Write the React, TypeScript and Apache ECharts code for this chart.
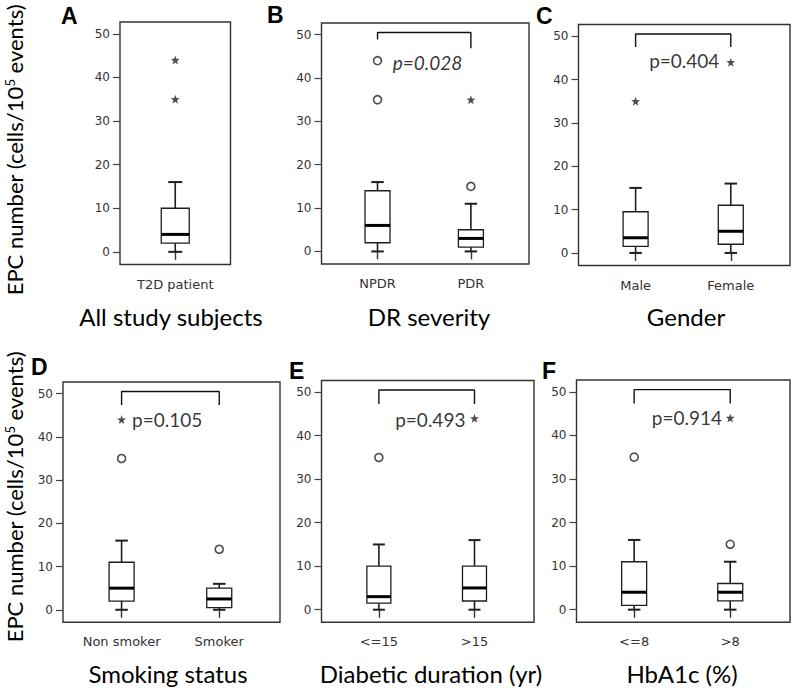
import React, { useEffect, useRef } from "react";
import * as echarts from "echarts";

// ---------- data ----------
const catsA = ["T2D patient"];
const boxA = [[0, 2, 4, 10, 16]]; // min, Q1, median, Q3, max
const circlesA: number[][] = [];
const starsA = [[0, 44], [0, 35]];

const catsB = ["NPDR", "PDR"];
const boxB = [[0, 2, 6, 14, 16], [0, 1, 3, 5, 11]];
const circlesB = [[0, 44], [0, 35], [1, 15]];
const starsB = [[1, 35]];
const pB = "p=0.028";

const catsC = ["Male", "Female"];
const boxC = [[0, 1.5, 3.5, 9.5, 15], [0, 2, 5, 11, 16]];
const circlesC: number[][] = [];
const starsC = [[0, 35], [1, 44]];
const pC = "p=0.404";

const catsD = ["Non smoker", "Smoker"];
const boxD = [[0, 2, 5, 11, 16], [0, 0.5, 2.5, 5, 6]];
const circlesD = [[0, 35], [1, 14]];
const starsD = [[0, 44]];
const pD = "p=0.105";

const catsE = ["<=15", ">15"];
const boxE = [[0, 1.5, 3, 10, 15], [0, 2, 5, 10, 16]];
const circlesE = [[0, 35]];
const starsE = [[1, 44]];
const pE = "p=0.493";

const catsF = ["<=8", ">8"];
const boxF = [[0, 1, 4, 11, 16], [0, 2, 4, 6, 11]];
const circlesF = [[0, 35], [1, 15]];
const starsF = [[1, 44]];
const pF = "p=0.914";

const yTicks = [0, 10, 20, 30, 40, 50];
const letters = ["A", "B", "C", "D", "E", "F"];
const subtitles = [
  "All study subjects",
  "DR severity",
  "Gender",
  "Smoking status",
  "Diabetic duration (yr)",
  "HbA1c (%)",
];

// ---------- layout ----------
const posOne = [0.5];
const posTwo = [0.27, 0.72];
const Y_MIN = -2.9;
const Y_MAX = 52.7;
const TICK_FONT = "DejaVu Sans";
const TEXT_FONT = "Lato";
const STAR =
  "path://M0,-10L2.35,-3.24L9.51,-3.09L3.8,1.24L5.88,8.09L0,4L-5.88,8.09L-3.8,1.24L-9.51,-3.09L-2.35,-3.24Z";

type Panel = {
  cats: string[];
  pos: number[];
  box: number[][];
  circles: number[][];
  stars: number[][];
  p: string | null;
  pItalic?: boolean;
  pAt?: number[];
  legs?: number[];
  grid: { left: number; top: number; width: number; height: number };
  boxW: number;
  sub: number[];
  letter: number[];
};

const panels: Panel[] = [
  { cats: catsA, pos: posOne, box: boxA, circles: circlesA, stars: starsA, p: null,
    grid: { left: 120, top: 22, width: 110.5, height: 242.5 }, boxW: 28, sub: [171, 316], letter: [61, 4] },
  { cats: catsB, pos: posTwo, box: boxB, circles: circlesB, stars: starsB, p: pB, pItalic: true, pAt: [0.511, 43.7], legs: [48.9, 46.9],
    grid: { left: 321.5, top: 23, width: 207.5, height: 241 }, boxW: 25, sub: [429, 316], letter: [267, 3] },
  { cats: catsC, pos: posTwo, box: boxC, circles: circlesC, stars: starsC, p: pC, pAt: [0.5, 44.5], legs: [47.5, 47.5],
    grid: { left: 578.5, top: 24.5, width: 211.5, height: 241 }, boxW: 25, sub: [686, 316], letter: [536, 4] },
  { cats: catsD, pos: posTwo, box: boxD, circles: circlesD, stars: starsD, p: pD, pAt: [0.48, 44], legs: [47.4, 47.4],
    grid: { left: 63, top: 382, width: 217, height: 240.3 }, boxW: 25, sub: [168, 673], letter: [31, 355] },
  { cats: catsE, pos: posTwo, box: boxE, circles: circlesE, stars: starsE, p: pE, pAt: [0.512, 43.8], legs: [47.3, 47.3],
    grid: { left: 321.5, top: 380.5, width: 212.5, height: 241.8 }, boxW: 24, sub: [431, 673], letter: [289, 359] },
  { cats: catsF, pos: posTwo, box: boxF, circles: circlesF, stars: starsF, p: pF, pAt: [0.517, 44.1], legs: [47.3, 47.3],
    grid: { left: 576.5, top: 380, width: 213.5, height: 242.3 }, boxW: 25, sub: [682, 673], letter: [542, 359] },
];
const BRACKET_TOP = 50.5;

function renderBox(boxW: number) {
  return (_params: any, api: any) => {
    const x = api.value(0);
    const pts = [1, 2, 3, 4, 5].map((i) => api.coord([x, api.value(i)]));
    const [pLo, pQ1, pMed, pQ3, pHi] = pts;
    const cx = pLo[0];
    const hw = boxW / 2;
    const cw = boxW / 4;
    const stroke = "#1e1e1e";
    return {
      type: "group",
      children: [
        { type: "line", shape: { x1: cx, y1: pHi[1], x2: cx, y2: pQ3[1] }, style: { stroke, lineWidth: 1.6 } },
        { type: "line", shape: { x1: cx, y1: pQ1[1], x2: cx, y2: pLo[1] }, style: { stroke, lineWidth: 1.6 } },
        { type: "line", shape: { x1: cx - cw, y1: pHi[1], x2: cx + cw, y2: pHi[1] }, style: { stroke, lineWidth: 2 } },
        { type: "line", shape: { x1: cx - cw, y1: pLo[1], x2: cx + cw, y2: pLo[1] }, style: { stroke, lineWidth: 2 } },
        { type: "rect", shape: { x: cx - hw, y: pQ3[1], width: boxW, height: pQ1[1] - pQ3[1] },
          style: { fill: "#fff", stroke, lineWidth: 1.3 } },
        { type: "line", shape: { x1: cx - hw, y1: pMed[1], x2: cx + hw, y2: pMed[1] }, style: { stroke: "#000", lineWidth: 3 } },
      ],
    };
  };
}

function buildOption() {
  const grid: any[] = [];
  const xAxis: any[] = [];
  const yAxis: any[] = [];
  const series: any[] = [];
  const graphic: any[] = [];

  panels.forEach((pn, i) => {
    grid.push({ ...pn.grid, show: true, borderColor: "#333", borderWidth: 1.4, backgroundColor: "#fff" });
    xAxis.push({
      type: "value", gridIndex: i, min: 0, max: 1,
      axisLine: { show: false }, splitLine: { show: false },
      axisTick: { show: true, customValues: pn.pos, length: 8, lineStyle: { color: "#333", width: 1.4 } },
      axisLabel: {
        customValues: pn.pos, margin: 13, color: "#333", fontFamily: TICK_FONT, fontSize: 13,
        formatter: (v: number) => {
          const k = pn.pos.findIndex((p) => Math.abs(p - v) < 1e-6);
          return k >= 0 ? pn.cats[k] : "";
        },
      },
    });
    yAxis.push({
      type: "value", gridIndex: i, min: Y_MIN, max: Y_MAX,
      axisLine: { show: false }, splitLine: { show: false },
      axisTick: { show: true, customValues: yTicks, length: 7, lineStyle: { color: "#444", width: 1.2 } },
      axisLabel: { customValues: yTicks, margin: 10, color: "#333", fontFamily: TICK_FONT, fontSize: 12 },
    });
    series.push({
      type: "custom", xAxisIndex: i, yAxisIndex: i, renderItem: renderBox(pn.boxW),
      encode: { x: 0, y: [1, 2, 3, 4, 5] },
      data: pn.box.map((b, k) => [pn.pos[k], ...b]),
      z: 3,
    });
    series.push({
      type: "scatter", xAxisIndex: i, yAxisIndex: i, symbol: "circle", symbolSize: 8,
      itemStyle: { color: "#fff", borderColor: "#222", borderWidth: 1.6 },
      data: pn.circles.map((c) => [pn.pos[c[0]], c[1]]), z: 4,
    });
    series.push({
      type: "scatter", xAxisIndex: i, yAxisIndex: i, symbol: STAR, symbolSize: 9,
      itemStyle: { color: "#222" },
      data: pn.stars.map((c) => [pn.pos[c[0]], c[1]]), z: 4,
    });
    if (pn.p && pn.legs && pn.pAt) {
      series.push({
        type: "line", xAxisIndex: i, yAxisIndex: i, symbol: "none",
        lineStyle: { color: "#111", width: 1.4 },
        data: [
          [pn.pos[0], pn.legs[0]], [pn.pos[0], BRACKET_TOP],
          [pn.pos[1], BRACKET_TOP], [pn.pos[1], pn.legs[1]],
        ],
        z: 4,
      });
      series.push({
        type: "scatter", xAxisIndex: i, yAxisIndex: i, symbolSize: 0.1,
        itemStyle: { color: "transparent" },
        label: {
          show: true, position: "inside", formatter: pn.p, color: "#000",
          fontFamily: TEXT_FONT, fontSize: 19, fontStyle: pn.pItalic ? "italic" : "normal",
        },
        data: [pn.pAt], z: 5,
      });
    }
    graphic.push({
      type: "text", x: pn.letter[0], y: pn.letter[1],
      style: { text: letters[i], fontFamily: "Liberation Sans", fontWeight: "bold", fontSize: 23, fill: "#000" },
    });
    graphic.push({
      type: "text", x: pn.sub[0], y: pn.sub[1],
      style: { text: subtitles[i], fontFamily: TEXT_FONT, fontSize: 24, fill: "#000", align: "center", verticalAlign: "middle" },
    });
  });

  [150, 497].forEach((cy) => {
    graphic.push({
      type: "text", x: 14, y: cy, rotation: Math.PI / 2,
      style: {
        text: "EPC number (cells/10{sup|5} events)",
        fontFamily: TEXT_FONT, fontSize: 22, fill: "#000", align: "center", verticalAlign: "middle",
        rich: { sup: { fontFamily: TEXT_FONT, fontSize: 13, verticalAlign: "top", lineHeight: 12 } },
      },
    });
  });

  return { animation: false, backgroundColor: "#fff", grid, xAxis, yAxis, series, graphic };
}

export default function App() {
  const ref = useRef<HTMLDivElement>(null);
  useEffect(() => {
    document.body.style.margin = "0";
    const chart = echarts.init(ref.current!, null, { renderer: "svg" });
    chart.setOption(buildOption() as any);
    return () => chart.dispose();
  }, []);
  return <div ref={ref} style={{ position: "absolute", left: 0, top: 0, width: 793, height: 696 }} />;
}
